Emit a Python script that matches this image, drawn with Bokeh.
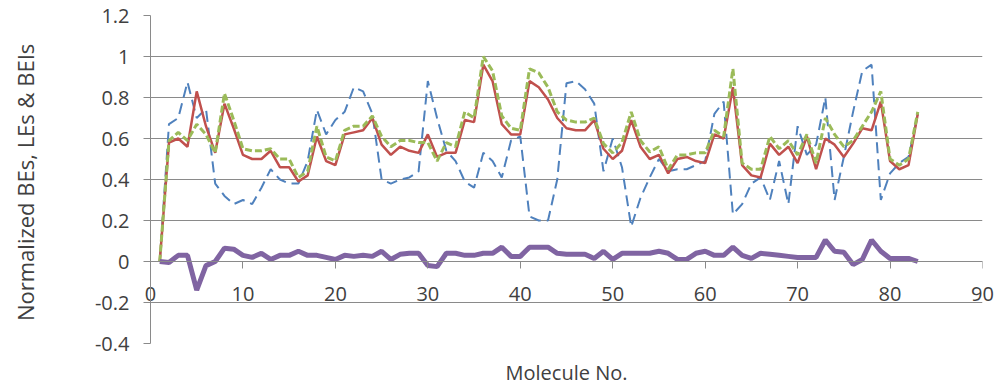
from bokeh.plotting import figure
from bokeh.models import FixedTicker, LinearAxis
from bokeh.embed import file_html
from bokeh.resources import INLINE

molecules = list(range(1, 84))

red_series = [0, 0.58, 0.60, 0.56, 0.83, 0.66, 0.53, 0.77, 0.65, 0.52,
              0.50, 0.50, 0.54, 0.46, 0.46, 0.39, 0.42, 0.61, 0.49, 0.47,
              0.62, 0.63, 0.64, 0.70, 0.57, 0.52, 0.56, 0.54, 0.53, 0.62,
              0.51, 0.53, 0.53, 0.69, 0.68, 0.96, 0.88, 0.67, 0.62, 0.62,
              0.88, 0.85, 0.79, 0.70, 0.65, 0.64, 0.64, 0.69, 0.55, 0.50,
              0.54, 0.69, 0.56, 0.50, 0.52, 0.43, 0.50, 0.51, 0.49, 0.48,
              0.62, 0.60, 0.85, 0.47, 0.42, 0.41, 0.575, 0.52, 0.56, 0.48,
              0.61, 0.45, 0.60, 0.57, 0.51, 0.575, 0.65, 0.64, 0.78, 0.49,
              0.45, 0.47, 0.72]

green_series = [0, 0.59, 0.63, 0.59, 0.67, 0.62, 0.53, 0.82, 0.69, 0.55,
                0.54, 0.54, 0.55, 0.50, 0.50, 0.41, 0.44, 0.66, 0.51, 0.49,
                0.64, 0.66, 0.66, 0.71, 0.61, 0.56, 0.59, 0.59, 0.58, 0.58,
                0.49, 0.58, 0.56, 0.73, 0.70, 1.0, 0.93, 0.71, 0.65, 0.64,
                0.94, 0.92, 0.85, 0.73, 0.69, 0.68, 0.68, 0.70, 0.575, 0.53,
                0.58, 0.73, 0.59, 0.535, 0.56, 0.45, 0.52, 0.52, 0.53, 0.53,
                0.64, 0.61, 0.94, 0.48, 0.45, 0.45, 0.61, 0.55, 0.59, 0.52,
                0.62, 0.48, 0.70, 0.62, 0.56, 0.59, 0.66, 0.73, 0.83, 0.50,
                0.47, 0.50, 0.73]

blue_series = [0, 0.67, 0.70, 0.875, 0.70, 0.745, 0.38, 0.32, 0.28, 0.30,
               0.28, 0.36, 0.45, 0.40, 0.38, 0.38, 0.49, 0.74, 0.62, 0.69,
               0.73, 0.85, 0.83, 0.72, 0.40, 0.38, 0.40, 0.41, 0.44, 0.88,
               0.70, 0.54, 0.49, 0.39, 0.36, 0.53, 0.49, 0.41, 0.59, 0.61,
               0.22, 0.20, 0.20, 0.40, 0.87, 0.88, 0.84, 0.77, 0.44, 0.60,
               0.46, 0.17, 0.31, 0.41, 0.50, 0.44, 0.45, 0.45, 0.47, 0.49,
               0.72, 0.78, 0.23, 0.28, 0.38, 0.41, 0.30, 0.49, 0.28, 0.66,
               0.52, 0.57, 0.80, 0.30, 0.51, 0.73, 0.93, 0.96, 0.30, 0.43,
               0.48, 0.51, 0.72]

purple_series = [0, -0.005, 0.03, 0.03, -0.14, -0.02, 0.0, 0.065, 0.06, 0.03,
                 0.02, 0.04, 0.01, 0.03, 0.03, 0.05, 0.03, 0.03, 0.02, 0.01,
                 0.03, 0.025, 0.03, 0.025, 0.05, 0.01, 0.035, 0.04, 0.04, -0.02,
                 -0.025, 0.04, 0.04, 0.03, 0.03, 0.04, 0.04, 0.07, 0.025, 0.025,
                 0.07, 0.07, 0.07, 0.04, 0.035, 0.035, 0.035, 0.015, 0.05, 0.01,
                 0.04, 0.04, 0.04, 0.04, 0.05, 0.04, 0.01, 0.01, 0.04, 0.05,
                 0.03, 0.03, 0.07, 0.03, 0.015, 0.04, 0.035, 0.03, 0.025, 0.02,
                 0.02, 0.02, 0.105, 0.05, 0.045, -0.015, 0.01, 0.105, 0.05, 0.015,
                 0.015, 0.015, 0.0]

x_ticks = [0, 10, 20, 30, 40, 50, 60, 70, 80, 90]
y_ticks = [-0.4, -0.2, 0, 0.2, 0.4, 0.6, 0.8, 1, 1.2]
y_tick_labels = ["-0.4", "-0.2", "0", "0.2", "0.4", "0.6", "0.8", "1", "1.2"]
x_title = "Molecule No."
y_title = "Normalized BEs,  LEs & BEIs"

FONT = "Open Sans"
TEXT = "#404040"
GRID = "#8a8a8a"

p = figure(width=996, height=389, x_range=(0, 90), y_range=(-0.4, 1.2),
           output_backend="svg", toolbar_location=None,
           min_border_left=150, min_border_right=14, min_border_top=15,
           min_border_bottom=46)
p.outline_line_color = None
p.background_fill_color = "white"

p.line(molecules, blue_series, line_color="#4f81bd", line_width=2, line_dash="11 6")
p.line(molecules, red_series, line_color="#c0504d", line_width=2.5)
p.line(molecules, green_series, line_color="#9bbb59", line_width=3, line_dash="7 3")
p.line(molecules, purple_series, line_color="#8064a2", line_width=5)

p.xgrid.visible = False
p.ygrid.ticker = FixedTicker(ticks=y_ticks)
p.ygrid.grid_line_color = GRID
p.ygrid.grid_line_width = 1

yax = p.yaxis[0]
yax.ticker = FixedTicker(ticks=y_ticks)
yax.major_label_overrides = dict(zip(y_ticks, y_tick_labels))
yax.axis_line_color = GRID
yax.major_tick_line_color = GRID
yax.major_tick_out = 7
yax.major_tick_in = 0
yax.minor_tick_line_color = None
yax.major_label_standoff = 14
yax.major_label_text_font = FONT
yax.major_label_text_font_size = "20px"
yax.major_label_text_color = TEXT
yax.axis_label = y_title
yax.axis_label_text_font = FONT
yax.axis_label_text_font_size = "22px"
yax.axis_label_text_font_style = "normal"
yax.axis_label_text_color = TEXT
yax.axis_label_standoff = 52

# outer axis: carries the tick labels (raised up to the zero line) and the title
xax = p.xaxis[0]
xax.ticker = FixedTicker(ticks=x_ticks)
xax.axis_line_color = None
xax.major_tick_line_color = None
xax.minor_tick_line_color = None
xax.major_tick_out = 0
xax.major_tick_in = 0
xax.major_label_standoff = -57
xax.major_label_text_font = FONT
xax.major_label_text_font_size = "20px"
xax.major_label_text_color = TEXT
xax.axis_label = x_title
xax.axis_label_text_font = FONT
xax.axis_label_text_font_size = "20px"
xax.axis_label_text_font_style = "normal"
xax.axis_label_text_color = TEXT
xax.axis_label_standoff = 55

# axis line and ticks crossing at y = 0
zero_axis = LinearAxis(fixed_location=0, ticker=FixedTicker(ticks=x_ticks),
                       axis_line_color=GRID, major_tick_line_color=GRID,
                       major_tick_out=7, major_tick_in=0,
                       minor_tick_line_color=None,
                       major_label_text_font_size="0px",
                       major_label_text_color=None)
p.add_layout(zero_axis, "below")

open("out.html", "w").write(file_html(p, INLINE))
